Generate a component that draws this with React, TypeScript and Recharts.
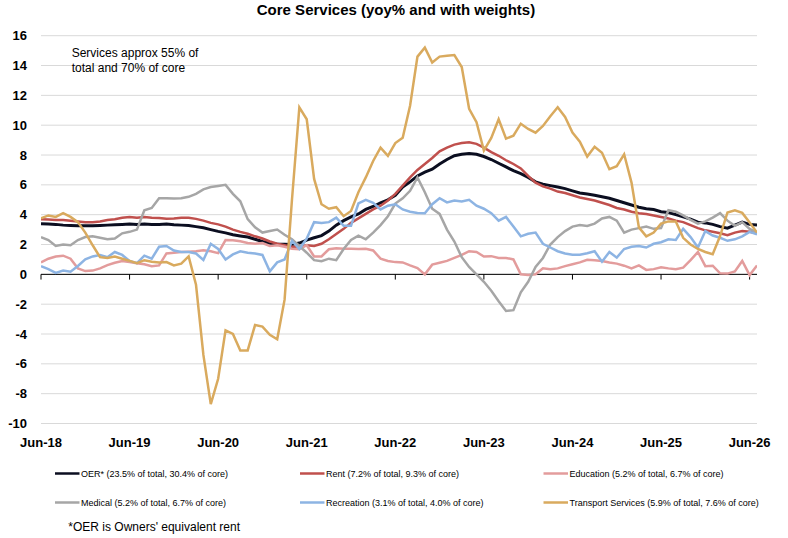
import React from "react";
import { LineChart, Line, XAxis, YAxis, CartesianGrid, ReferenceLine } from "recharts";

// ---- categories (monthly, Jun-18 .. Jul-26) ----
const monthNames = ["Jan", "Feb", "Mar", "Apr", "May", "Jun", "Jul", "Aug", "Sep", "Oct", "Nov", "Dec"];
const months: string[] = Array.from({ length: 98 }, (_, k) => {
  const m = (5 + k) % 12;
  const y = 18 + Math.floor((5 + k) / 12);
  return `${monthNames[m]}-${y}`;
});

const tickLabels = ["Jun-18", "Jun-19", "Jun-20", "Jun-21", "Jun-22", "Jun-23", "Jun-24", "Jun-25", "Jun-26"];
const yTicks = [-10, -8, -6, -4, -2, 0, 2, 4, 6, 8, 10, 12, 14, 16];

// ---- series values (yoy %) ----
const oer = [
  3.4, 3.38, 3.35, 3.3, 3.28, 3.25, 3.25, 3.25, 3.28, 3.3, 3.32, 3.35,
  3.38, 3.35, 3.37, 3.35, 3.35, 3.38, 3.32, 3.3, 3.28, 3.2, 3.12, 3.0,
  2.88, 2.78, 2.65, 2.57, 2.5, 2.35, 2.2, 2.08, 2.02, 2.02, 2.0, 2.1,
  2.3, 2.45, 2.6, 2.9, 3.3, 3.6, 3.85, 4.05, 4.35, 4.55, 4.8, 5.0,
  5.3, 5.85, 6.2, 6.6, 6.85, 7.05, 7.4, 7.7, 7.95, 8.05, 8.1, 8.05,
  7.9, 7.7, 7.45, 7.2, 6.95, 6.75, 6.5, 6.2, 6.05, 5.95, 5.85, 5.75,
  5.6, 5.45, 5.38, 5.3, 5.2, 5.1, 4.95, 4.8, 4.65, 4.5, 4.4, 4.35,
  4.2, 4.15, 4.0, 3.85, 3.7, 3.5, 3.45, 3.35, 3.2, 3.1, 3.3, 3.5,
  3.35, 3.3,
];
const rent = [
  3.7, 3.68, 3.65, 3.65, 3.6, 3.55, 3.5, 3.5, 3.55, 3.65, 3.7, 3.8,
  3.85, 3.8, 3.85, 3.8, 3.78, 3.72, 3.75, 3.8, 3.8, 3.72, 3.6, 3.45,
  3.35, 3.2, 3.0, 2.85, 2.72, 2.55, 2.4, 2.2, 2.05, 1.95, 1.85, 1.85,
  1.95, 1.9, 2.05, 2.35, 2.7, 3.05, 3.45, 3.75, 4.05, 4.35, 4.6, 4.95,
  5.4, 5.95, 6.5, 7.0, 7.4, 7.8, 8.25, 8.5, 8.7, 8.8, 8.85, 8.75,
  8.5, 8.2, 7.95, 7.65, 7.4, 7.1, 6.6, 6.15, 5.9, 5.75, 5.55, 5.45,
  5.3, 5.15, 5.05, 4.95, 4.8, 4.65, 4.45, 4.35, 4.2, 4.1, 4.05, 3.95,
  3.85, 3.75, 3.6, 3.5, 3.3, 3.1, 2.95, 2.85, 2.75, 2.62, 2.8, 2.9,
  2.85, 2.75,
];
const education = [
  0.8, 1.05, 1.2, 1.25, 1.05, 0.4, 0.22, 0.25, 0.4, 0.62, 0.78, 0.9,
  0.82, 0.75, 0.68, 0.55, 0.6, 1.4, 1.45, 1.5, 1.52, 1.55, 1.62, 1.55,
  1.42, 2.3, 2.28, 2.22, 2.1, 2.05, 2.1, 1.9, 1.95, 1.85, 1.72, 1.68,
  1.95, 1.2, 1.2, 1.68, 1.75, 1.72, 1.72, 1.7, 1.72, 1.6, 1.05, 0.9,
  0.82, 0.8, 0.6, 0.42, 0.0, 0.65, 0.78, 0.9, 1.1, 1.3, 1.55, 1.5,
  1.2, 1.22, 1.1, 1.1, 1.0, 0.0, -0.05, 0.0, 0.4, 0.35, 0.4, 0.55,
  0.68, 0.8, 0.98, 0.95, 0.9, 0.8, 0.72, 0.58, 0.4, 0.6, 0.3, 0.35,
  0.48, 0.4, 0.35, 0.45, 0.95, 1.5, 0.55, 0.58, 0.07, 0.05, 0.2, 0.9,
  -0.05, 0.6,
];
const medical = [
  2.5, 2.3, 1.9, 2.0, 1.95, 2.3, 2.5, 2.55, 2.45, 2.35, 2.4, 2.75,
  2.85, 3.0, 4.3, 4.45, 5.1, 5.1, 5.08, 5.1, 5.2, 5.4, 5.7, 5.85,
  5.92, 6.0, 5.4, 4.9, 3.7, 3.15, 2.8, 2.9, 3.0, 2.65, 2.35, 1.9,
  1.45, 0.95, 0.88, 1.05, 0.95, 1.7, 2.3, 2.6, 2.35, 2.8, 3.3, 3.9,
  4.75, 5.1, 5.6, 6.5, 5.5, 4.4, 4.05, 3.0, 2.2, 1.15, 0.5, 0.0,
  -0.5, -1.1, -1.8, -2.45, -2.4, -1.2, -0.5, 0.5, 1.1, 2.0, 2.5, 2.9,
  3.2, 3.3, 3.25, 3.4, 3.75, 3.85, 3.6, 2.8, 3.0, 3.1, 3.2, 3.05,
  3.1, 4.3, 4.2, 3.95, 3.65, 3.4, 3.55, 3.8, 4.1, 3.6, 3.25, 3.5,
  3.05, 2.8,
];
const recreation = [
  0.55, 0.35, 0.1, 0.25, 0.18, 0.56, 1.0, 1.2, 1.3, 1.15, 1.5, 1.3,
  0.9, 0.75, 1.25, 1.05, 1.85, 1.9, 1.6, 1.5, 1.5, 1.4, 0.96, 2.05,
  1.7, 1.0, 1.34, 1.55, 1.45, 1.4, 1.3, 0.2, 0.8, 1.0, 2.25, 1.7,
  2.4, 3.5, 3.45, 3.5, 3.8, 3.25, 3.25, 4.75, 5.0, 4.8, 4.35, 4.6,
  4.7, 4.35, 4.2, 4.12, 4.1, 4.7, 5.1, 4.82, 4.95, 4.88, 5.0, 4.6,
  4.4, 4.1, 3.6, 3.85, 3.2, 2.55, 2.72, 2.8, 2.05, 1.8, 1.55, 1.4,
  1.32, 1.32, 1.42, 1.55, 0.85, 1.5, 1.12, 1.7, 1.85, 1.9, 1.8, 2.05,
  2.15, 2.35, 2.3, 3.05, 2.5, 1.8, 2.9, 2.6, 2.45, 2.25, 2.35, 2.55,
  2.85, 2.68,
];
const transport = [
  3.75, 3.95, 3.85, 4.1, 3.85, 3.5, 2.8, 1.95, 1.15, 1.1, 1.2, 1.05,
  0.9, 0.75, 0.95, 0.85, 0.8, 0.82, 0.6, 0.72, 1.2, -0.7, -5.4, -8.7,
  -7.0, -3.75, -4.0, -5.1, -5.1, -3.4, -3.5, -4.05, -4.35, -1.7, 5.0, 11.2,
  10.4, 6.4, 4.7, 4.4, 4.5, 3.9, 4.25, 5.5, 6.5, 7.6, 8.5, 7.95,
  8.8, 9.15, 11.3, 14.6, 15.2, 14.2, 14.6, 14.65, 14.7, 13.9, 11.1, 10.2,
  8.3, 9.15, 10.4, 9.1, 9.3, 10.1, 9.75, 9.5, 9.95, 10.6, 11.2, 10.55,
  9.5, 8.9, 7.9, 8.55, 8.15, 7.05, 7.25, 8.05, 6.15, 3.15, 2.55, 2.8,
  3.4, 3.55, 3.55, 2.45, 2.0, 1.7, 1.5, 1.35, 2.57, 4.15, 4.3, 4.12,
  3.47, 2.8,
];

// ---- series config (labels + styles) ----
const series = [
  { key: "oer", name: "OER* (23.5% of total, 30.4% of core)", color: "#0b0e20", width: 3 },
  { key: "rent", name: "Rent (7.2% of total, 9.3% of core)", color: "#c0504d", width: 2.5 },
  { key: "education", name: "Education (5.2% of total, 6.7% of core)", color: "#e39c9c", width: 2.5 },
  { key: "medical", name: "Medical (5.2% of total, 6.7% of core)", color: "#a6a6a6", width: 2.5 },
  { key: "recreation", name: "Recreation (3.1% of total, 4.0% of core)", color: "#8db4e3", width: 2.5 },
  { key: "transport", name: "Transport Services (5.9% of total, 7.6% of core)", color: "#d9aa5e", width: 2.5 },
];

const values: Record<string, number[]> = { oer, rent, education, medical, recreation, transport };

const data = months.map((m, k) => {
  const row: Record<string, number | string> = { idx: k, month: m };
  series.forEach((s) => {
    row[s.key] = values[s.key][k];
  });
  return row;
});

const tickIndex = tickLabels.map((l) => months.indexOf(l));

const FONT = "'Liberation Sans', Arial, Helvetica, sans-serif";

const XTick = (props: any) => {
  const { x, y, payload } = props;
  return (
    <text x={x} y={y + 23.5} textAnchor="middle" fontSize={13} fontWeight="bold" fontFamily={FONT} fill="#000">
      {months[payload.value]}
    </text>
  );
};

const YTick = (props: any) => {
  const { x, y, payload } = props;
  return (
    <text x={x} y={y + 4.6} textAnchor="end" fontSize={13} fontWeight="bold" fontFamily={FONT} fill="#000">
      {payload.value}
    </text>
  );
};

const legendCols = [55, 300, 543.5];
const legendRows = [473.5, 502.5];

export default function App() {
  return (
    <div style={{ position: "absolute", left: 0, top: 0, width: 788, height: 538, background: "#fff" }}>
      <LineChart
        width={788}
        height={538}
        data={data}
        margin={{ top: 35.7, right: 31, bottom: 84.5, left: 0 }}
      >
        <CartesianGrid vertical={false} stroke="#d9d9d9" strokeWidth={1} />
        <XAxis
          dataKey="idx"
          type="number"
          domain={[0, 97]}
          ticks={tickIndex}
          interval={0}
          axisLine={false}
          tickLine={false}
          tickSize={0}
          tickMargin={0}
          height={30}
          tick={XTick}
          allowDataOverflow
        />
        <YAxis
          domain={[-10, 16]}
          ticks={yTicks}
          interval={0}
          axisLine={false}
          tickLine={false}
          tickSize={0}
          tickMargin={14}
          width={41}
          tick={YTick}
          allowDataOverflow
        />
        <ReferenceLine y={0} stroke="#000" strokeWidth={1} />
        {tickIndex.map((t) => (
          <ReferenceLine
            key={`tk${t}`}
            segment={[
              { x: t, y: 0 },
              { x: t, y: -0.35 },
            ]}
            stroke="#000"
            strokeWidth={1}
          />
        ))}
        {series.map((s) => (
          <Line
            key={s.key}
            type="linear"
            dataKey={s.key}
            name={s.name}
            stroke={s.color}
            strokeWidth={s.width}
            dot={false}
            activeDot={false}
            isAnimationActive={false}
          />
        ))}
      </LineChart>
      <svg
        width={788}
        height={538}
        style={{ position: "absolute", left: 0, top: 0, pointerEvents: "none" }}
        fontFamily={FONT}
      >
        <text x={396} y={15} textAnchor="middle" fontSize={15} fontWeight="bold" fill="#000">
          Core Services (yoy% and with weights)
        </text>
        <text x={71.7} y={56.5} fontSize={12} fill="#000">
          Services approx 55% of
        </text>
        <text x={71.7} y={71.5} fontSize={12} fill="#000">
          total and 70% of core
        </text>
        {series.map((s, k) => {
          const cx = legendCols[k % 3];
          const cy = legendRows[Math.floor(k / 3)];
          return (
            <g key={`lg${s.key}`}>
              <line x1={cx} x2={cx + 24.5} y1={cy} y2={cy} stroke={s.color} strokeWidth={2.5} />
              <text x={cx + 26} y={cy + 3.2} fontSize={9} fill="#000">
                {s.name}
              </text>
            </g>
          );
        })}
        <text x={68.3} y={530.5} fontSize={12} fill="#000">
          *OER is Owners' equivalent rent
        </text>
      </svg>
    </div>
  );
}
